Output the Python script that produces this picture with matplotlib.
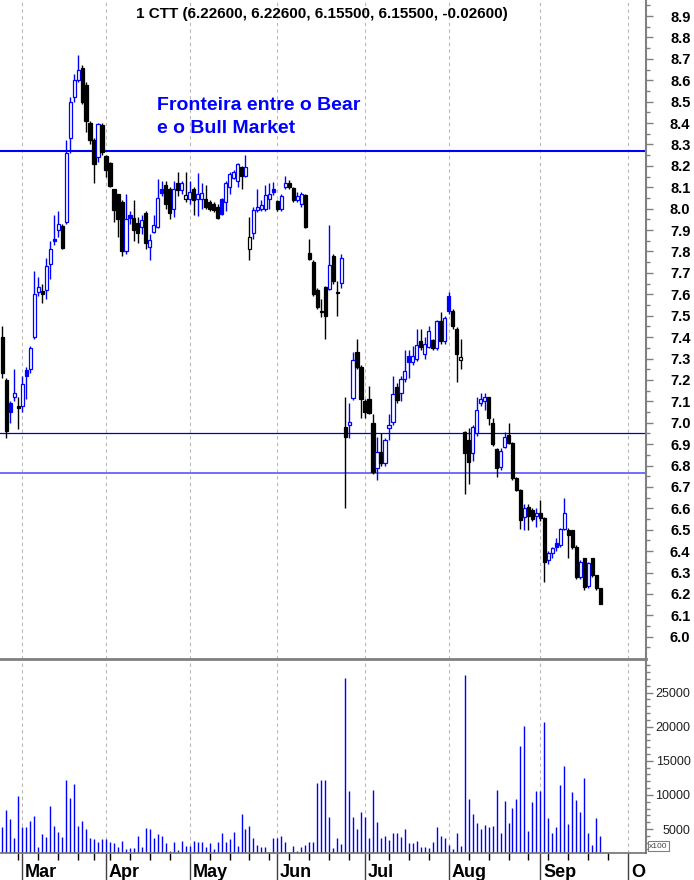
import numpy as np
import pandas as pd
import matplotlib
matplotlib.use('Agg')
import matplotlib.pyplot as plt
from matplotlib.patches import Rectangle
from matplotlib.ticker import FixedLocator, FormatStrFormatter
from matplotlib.transforms import blended_transform_factory

plt.rcParams['font.family'] = ['Liberation Sans', 'DejaVu Sans']

# dados diarios CTT (Fev-Set 2016)
holidays = ['2016-03-25', '2016-03-28']
title_txt = '1 CTT (6.22600, 6.22600, 6.15500, 6.15500, -0.02600)'
note_lines = ['Fronteira entre o Bear', 'e o Bull Market']
month_names = ['Mar', 'Apr', 'May', 'Jun', 'Jul', 'Aug', 'Sep', 'Oct']
levels = [8.27, 6.95, 6.765]

open_ = [7.40, 7.20, 7.09, 7.12, 7.08, 7.08, 7.245, 7.25, 7.40, 7.61,
         7.615, 7.62, 7.74, 7.86, 7.90, 7.92, 7.94, 8.33, 8.52, 8.60,
         8.655, 8.58, 8.40, 8.32, 8.24, 8.39, 8.245, 8.215, 8.09, 8.07,
         8.03, 7.80, 7.97, 7.955, 7.935, 7.915, 7.98, 7.82, 7.89, 7.915,
         8.09, 8.11, 8.09, 8.00, 8.12, 8.085, 8.045, 8.045, 8.09, 8.045,
         8.045, 8.045, 8.03, 8.02, 8.01, 8.045, 8.03, 8.10, 8.145, 8.13,
         8.195, 8.155, 7.81, 7.885, 7.995, 8.00, 8.00, 8.045, 8.09, 8.035,
         8.00, 8.10, 8.12, 8.095, 8.04, 8.02, 8.065, 7.795, 7.75, 7.62,
         7.52, 7.635, 7.625, 7.78, 7.61, 7.655, 6.98, 6.99, 7.115, 7.33,
         7.26, 7.10, 7.11, 7.00, 6.79, 6.865, 6.81, 6.975, 7.005, 7.165,
         7.14, 7.205, 7.31, 7.285, 7.30, 7.38, 7.32, 7.355, 7.386, 7.35,
         7.475, 7.38, 7.59, 7.52, 7.44, 7.293, 6.955, 6.919, 6.857, 6.95,
         7.09, 7.10, 7.118, 6.997, 6.875, 6.794, 6.885, 6.943, 6.904, 6.74,
         6.686, 6.561, 6.607, 6.592, 6.564, 6.58, 6.553, 6.358, 6.39, 6.436,
         6.428, 6.502, 6.499, 6.499, 6.421, 6.28, 6.366, 6.237, 6.366, 6.288,
         6.226]
high = [7.45, 7.21, 7.10, 7.25, 7.12, 7.22, 7.26, 7.36, 7.71, 7.68,
        7.65, 7.77, 7.85, 7.97, 7.99, 7.93, 8.32, 8.52, 8.63, 8.72,
        8.67, 8.59, 8.41, 8.33, 8.40, 8.40, 8.25, 8.22, 8.09, 8.07,
        8.04, 8.07, 7.99, 8.04, 7.96, 7.97, 7.99, 7.88, 7.97, 8.14,
        8.13, 8.13, 8.10, 8.13, 8.17, 8.13, 8.17, 8.13, 8.10, 8.165,
        8.12, 8.11, 8.04, 8.03, 8.02, 8.05, 8.13, 8.17, 8.18, 8.215,
        8.20, 8.25, 7.96, 8.01, 8.09, 8.04, 8.11, 8.12, 8.125, 8.04,
        8.07, 8.155, 8.135, 8.10, 8.08, 8.08, 8.07, 7.86, 7.76, 7.63,
        7.58, 7.64, 7.925, 7.79, 7.66, 7.79, 7.12, 7.09, 7.33, 7.39,
        7.27, 7.11, 7.17, 7.04, 6.935, 6.95, 6.93, 7.04, 7.22, 7.185,
        7.22, 7.34, 7.34, 7.36, 7.44, 7.44, 7.40, 7.45, 7.39, 7.48,
        7.515, 7.50, 7.61, 7.53, 7.445, 7.39, 6.96, 6.973, 6.99, 7.121,
        7.14, 7.14, 7.12, 7.02, 6.88, 6.88, 6.958, 6.999, 6.91, 6.745,
        6.69, 6.62, 6.62, 6.60, 6.60, 6.64, 6.56, 6.40, 6.42, 6.46,
        6.51, 6.648, 6.51, 6.50, 6.43, 6.36, 6.37, 6.35, 6.37, 6.29,
        6.226]
low = [7.21, 6.93, 7.00, 7.10, 6.97, 7.05, 7.11, 7.23, 7.39, 7.59,
       7.56, 7.58, 7.67, 7.83, 7.87, 7.81, 7.93, 8.26, 8.50, 8.59,
       8.49, 8.36, 8.30, 8.12, 8.22, 8.25, 8.15, 8.10, 7.94, 7.87,
       7.78, 7.79, 7.93, 7.85, 7.84, 7.88, 7.81, 7.76, 7.885, 7.91,
       8.06, 8.00, 7.95, 7.96, 8.06, 8.07, 8.03, 8.02, 7.97, 7.965,
       8.00, 8.00, 7.99, 7.985, 7.95, 7.97, 7.99, 8.07, 8.14, 8.10,
       8.09, 8.15, 7.76, 7.86, 7.985, 7.99, 7.99, 8.00, 8.065, 7.99,
       7.99, 8.09, 8.09, 8.03, 8.03, 8.01, 7.91, 7.76, 7.59, 7.53,
       7.495, 7.39, 7.62, 7.65, 7.50, 7.63, 6.60, 6.93, 7.105, 7.25,
       7.02, 7.02, 7.04, 6.76, 6.73, 6.80, 6.80, 6.92, 6.99, 7.09,
       7.10, 7.19, 7.21, 7.27, 7.29, 7.34, 7.30, 7.35, 7.34, 7.34,
       7.37, 7.37, 7.51, 7.44, 7.19, 7.25, 6.667, 6.713, 6.82, 6.94,
       7.08, 7.06, 6.99, 6.89, 6.745, 6.78, 6.88, 6.90, 6.73, 6.68,
       6.502, 6.50, 6.50, 6.54, 6.514, 6.54, 6.257, 6.34, 6.37, 6.40,
       6.42, 6.50, 6.37, 6.41, 6.27, 6.27, 6.22, 6.23, 6.28, 6.22,
       6.155]
close = [7.23, 6.96, 7.05, 7.14, 7.07, 7.18, 7.22, 7.35, 7.60, 7.635,
         7.60, 7.73, 7.81, 7.85, 7.93, 7.815, 8.26, 8.50, 8.60, 8.65,
         8.50, 8.41, 8.32, 8.21, 8.395, 8.265, 8.18, 8.105, 7.995, 7.95,
         7.80, 7.95, 7.955, 7.90, 7.885, 7.945, 7.84, 7.855, 7.925, 8.05,
         8.075, 8.02, 7.98, 8.09, 8.085, 8.12, 8.065, 8.08, 8.04, 8.07,
         8.075, 8.01, 8.00, 7.995, 7.955, 7.975, 8.12, 8.16, 8.17, 8.21,
         8.155, 8.195, 7.87, 7.995, 8.01, 8.015, 8.065, 8.07, 8.08, 8.00,
         8.06, 8.12, 8.10, 8.04, 8.06, 8.07, 7.915, 7.765, 7.60, 7.54,
         7.515, 7.50, 7.735, 7.66, 7.605, 7.77, 6.935, 7.005, 7.295, 7.26,
         7.11, 7.05, 7.045, 6.77, 6.865, 6.81, 6.92, 6.99, 7.135, 7.105,
         7.205, 7.24, 7.285, 7.31, 7.365, 7.355, 7.368, 7.43, 7.347, 7.475,
         7.38, 7.49, 7.52, 7.45, 7.32, 7.305, 6.86, 6.818, 6.981, 7.059,
         7.11, 7.12, 7.02, 6.90, 6.787, 6.868, 6.935, 6.907, 6.74, 6.686,
         6.545, 6.60, 6.564, 6.549, 6.577, 6.555, 6.35, 6.39, 6.413, 6.418,
         6.502, 6.577, 6.475, 6.421, 6.28, 6.35, 6.234, 6.346, 6.288, 6.226,
         6.155]
# volume (x100)
volume = [5240, 7784, 6415, 3628, 9887, 5240, 5240, 6220, 6953, 2405,
          4263, 3774, 8420, 5486, 4606, 3872, 12185, 9594, 11598, 5486,
          6220, 4948, 3628, 3481, 3139, 3481, 3530, 3041, 2894, 2307,
          3286, 2014, 2160, 2160, 4019, 2307, 5193, 4948, 3628, 4214,
          4019, 2992, 1770, 3139, 1867, 3286, 2503, 2500, 3286, 3041,
          3139, 2307, 2894, 2014, 3041, 4459, 3139, 3481, 4606, 2503,
          7197, 4948, 5486, 3628, 2650, 2307, 2307, 1700, 3628, 3628,
          4019, 3041, 1672, 2552, 1770, 2307, 2650, 3139, 3041, 11794,
          12185, 12185, 6806, 2160, 3628, 2796, 27100, 10572, 6708, 4948,
          7540, 6806, 3628, 10718, 5975, 3628, 3970, 3383, 4361, 4361,
          3774, 4948, 2992, 2992, 3237, 2405, 2405, 2160, 3041, 5240,
          3970, 3628, 2650, 2063, 4361, 2503, 27589, 9398, 7197, 5828,
          4948, 5584, 5339, 5486, 10718, 4459, 9105, 5828, 8127, 9398,
          17173, 20107, 4704, 9007, 10572, 10572, 20743, 6660, 4361, 5339,
          11452, 14239, 5681, 10376, 9251, 7540, 12528, 4361, 2650, 6660,
          4019]

# calendario de negociacao (inclui Out para a escala)
days = pd.bdate_range('2016-02-23', '2016-10-31')
days = days[~days.isin(pd.to_datetime(holidays))]
n = len(close)
idx = np.arange(n)

month_start = [k for k in range(1, len(days)) if days[k].month != days[k-1].month]
week_start = [k for k in range(1, len(days))
              if days[k].isocalendar()[1] != days[k-1].isocalendar()[1]
              and k not in month_start]

W, H = 694, 880
fig = plt.figure(figsize=(W/100, H/100), dpi=100)
ax = fig.add_axes([0, 1-659/H, 646/W, 659/H])
axv = fig.add_axes([0, 1-853/H, 646/W, (853-659)/H], sharex=ax)

blue = '#0000ff'
bw = 0.8
# velas
for k in range(n):
    if k > 0 and close[k] >= close[k-1]:
        c = blue
    else:
        c = 'black'
    ax.vlines(k, low[k], high[k], color=c, lw=1.0, zorder=3)
    b = min(open_[k], close[k])
    h = max(abs(close[k]-open_[k]), 0.004)
    if close[k] < open_[k]:
        ax.add_patch(Rectangle((k-bw/2, b), bw, h, facecolor=c, edgecolor=c, lw=0.9, zorder=4))
    else:
        ax.add_patch(Rectangle((k-bw/2, b), bw, h, facecolor='white', edgecolor=c, lw=0.9, zorder=4))

ax.axhline(levels[0], color=blue, lw=1.5, zorder=2)
ax.axhline(levels[1], color='#0000cc', lw=0.9, zorder=2)
ax.axhline(levels[2], color='#6f6fff', lw=1.4, zorder=2)

# volume
axv.vlines(idx, 0, volume, color=blue, lw=1.0)

for a in (ax, axv):
    for m in month_start:
        a.axvline(m, color='#b8b8b8', lw=0.8, ls=(0, (3, 3)), zorder=1)
    a.spines['left'].set_visible(False)
    a.spines['right'].set_color('#808080')
    a.spines['right'].set_linewidth(1.5)
    a.yaxis.tick_right()

ax.spines['top'].set_visible(False)
ax.spines['bottom'].set_visible(False)
axv.spines['top'].set_color('#808080')
axv.spines['top'].set_linewidth(2)
axv.spines['bottom'].set_color('#707070')
axv.spines['bottom'].set_linewidth(1.2)

ax.set_xlim(-0.6, 161.5)
ax.set_ylim(5.896, 8.975)
axv.set_ylim(1481, 29927)

# eixo precos
ax.yaxis.set_major_locator(FixedLocator(np.round(np.arange(6.0, 8.95, 0.1), 2)))
ax.yaxis.set_minor_locator(FixedLocator(np.round(np.arange(5.95, 8.96, 0.1), 2)))
ax.yaxis.set_major_formatter(FormatStrFormatter('%.1f'))
ax.tick_params(axis='y', which='major', length=5, width=1, color='#808080', pad=27,
               labelsize=10.5)
ax.tick_params(axis='y', which='minor', length=3, width=1, color='#808080')
for t in ax.get_yticklabels():
    t.set_fontweight('bold')
    t.set_horizontalalignment('right')
ax.tick_params(axis='x', which='both', bottom=False, labelbottom=False)

# eixo volume
axv.yaxis.set_major_locator(FixedLocator([5000, 10000, 15000, 20000, 25000]))
axv.yaxis.set_minor_locator(FixedLocator(np.arange(2000, 30000, 1000)))
axv.tick_params(axis='y', which='major', length=5, width=1, color='#808080', pad=27,
                labelsize=9, labelcolor='#202020')
axv.tick_params(axis='y', which='minor', length=3, width=1, color='#808080')
for t in axv.get_yticklabels():
    t.set_horizontalalignment('right')

axv.xaxis.set_major_locator(FixedLocator(month_start))
axv.xaxis.set_minor_locator(FixedLocator(week_start))
axv.tick_params(axis='x', which='major', length=19.5, width=1, color='#404040', labelbottom=False)
axv.tick_params(axis='x', which='minor', length=5, width=1, color='black')

# meses
clip = Rectangle((0, 0), 646/W, 1, transform=fig.transFigure, visible=False)
fig.add_artist(clip)
tr = blended_transform_factory(axv.transData, fig.transFigure)
for m, name in zip(month_start, month_names):
    t = axv.text(m + 0.7, 3/H, name, transform=tr, fontsize=13, fontweight='bold',
                 ha='left', va='baseline', clip_on=True)
    t.set_clip_path(clip)

fig.text(649/W, 1-846/H, 'x100', fontsize=6, color='#404040', ha='left', va='center',
         bbox=dict(boxstyle='square,pad=0.15', fc='white', ec='#808080', lw=0.8))

fig.text(322/W, 1-18/H, title_txt, ha='center', va='baseline', fontsize=11, fontweight='bold')
fig.text(157/W, 1-109.5/H, note_lines[0], ha='left', va='baseline', fontsize=14,
         fontweight='bold', color=blue)
fig.text(157/W, 1-133/H, note_lines[1], ha='left', va='baseline', fontsize=14,
         fontweight='bold', color=blue)

fig.savefig('out.png', dpi=100)
